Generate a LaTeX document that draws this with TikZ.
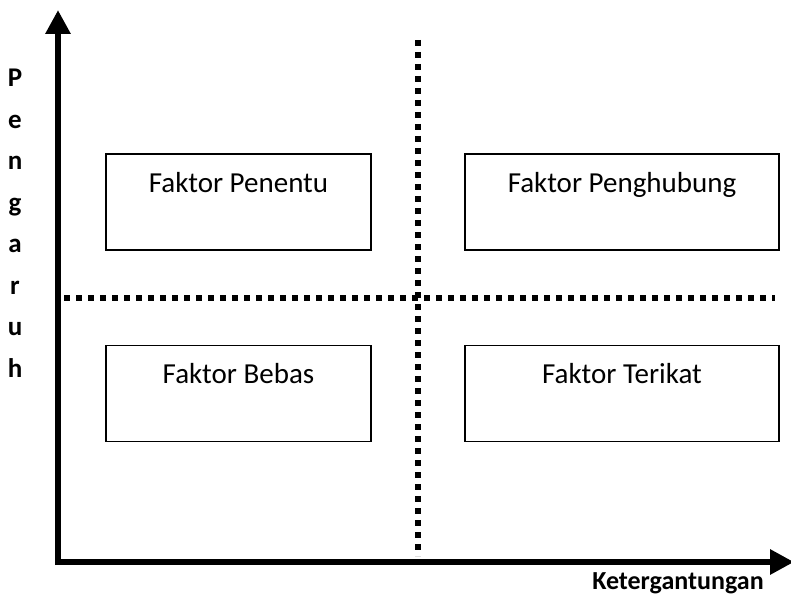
\documentclass[tikz,border=0pt]{standalone}
\usepackage{fontspec}
\setmainfont{Carlito}
\usetikzlibrary{arrows.meta,calc}
\begin{document}
\begin{tikzpicture}[x=1pt,y=-1pt,
  axis/.style={line width=6pt,-{Triangle[width=24pt,length=24pt]}},
  dotline/.style={line width=6pt,dash pattern=on 6pt off 6pt},
  box/.style={draw,line width=1.3pt,rectangle,inner sep=0pt},
  lbl/.style={font=\fontsize{29}{34}\selectfont,inner sep=0pt,anchor=base},
  axlbl/.style={font=\bfseries\fontsize{27}{41.5}\selectfont,inner sep=0pt}]
\useasboundingbox (0,0) rectangle (791,596);
% axes
\coordinate (O) at (58,562);
\coordinate (Vb) at (58,565);
\coordinate (Ytop) at (58,10);
\coordinate (Hb) at (55,562);
\coordinate (Xend) at (794,562);
\draw[axis] (Vb) -- (Ytop);
\draw[axis] (Hb) -- (Xend);
% dotted dividers
\coordinate (Dv1) at (418,40);
\coordinate (Dv2) at (418,556);
\coordinate (Dh1) at (64,298);
\coordinate (Dh2) at (775,298);
\draw[dotline] (Dv1) -- (Dv2);
\draw[dotline] (Dh1) -- (Dh2);
% boxes
\node[box,minimum width=265pt,minimum height=96pt] (pen) at (238.5,202) {};
\node[box,minimum width=314pt,minimum height=96pt] (hub) at (622,202) {};
\node[box,minimum width=265pt,minimum height=96pt] (beb) at (238.5,393.5) {};
\node[box,minimum width=314pt,minimum height=96pt] (ter) at (622,393.5) {};
\node[lbl] (penl) at ($(pen.north)+(0,39)$) {Faktor Penentu};
\node[lbl] (hubl) at ($(hub.north)+(0,39)$) {Faktor Penghubung};
\node[lbl] (bebl) at ($(beb.north)+(0,39)$) {Faktor Bebas};
\node[lbl] (terl) at ($(ter.north)+(0,39)$) {Faktor Terikat};
% axis labels
\node[axlbl,align=center,anchor=north] (ylab) at (15,69) {P\\e\\n\\g\\a\\r\\u\\h};
\node[axlbl,anchor=base,font=\bfseries\fontsize{26}{30}\selectfont] (xlab) at (678,589) {Ketergantungan};
\end{tikzpicture}
\end{document}
